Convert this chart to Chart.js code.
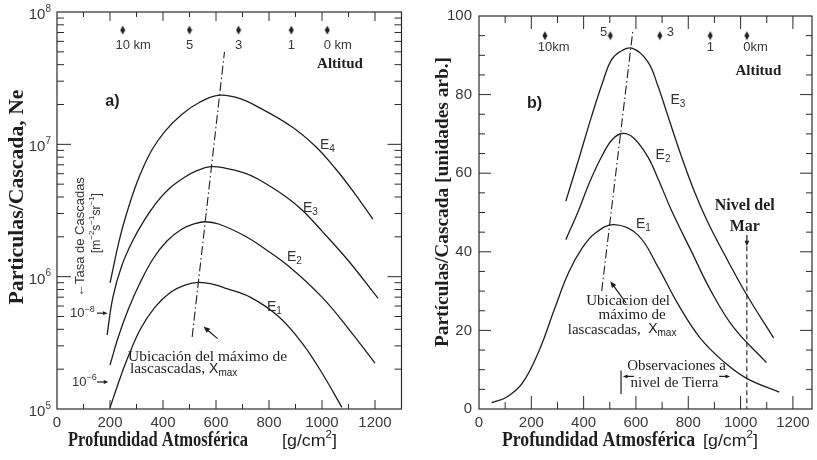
<!DOCTYPE html>
<html><head><meta charset="utf-8">
<script src="https://cdn.jsdelivr.net/npm/chart.js@4/dist/chart.umd.min.js"></script>
<style>
html,body{margin:0;padding:0;background:#fff;}
#wrap{position:relative;width:817px;height:460px;overflow:hidden;background:#fff;}
#c1{position:absolute;left:0;top:0;}
#c2{position:absolute;left:410px;top:0;}
</style></head><body>
<div id="wrap"><canvas id="c1" width="410" height="460"></canvas><canvas id="c2" width="407" height="460"></canvas></div>
<script>
// ---------- DATA (panel a: log scale) ----------
const leftDepthE1 = [200,230,268,317,370,430,483,535,590,634,732,834,925,1000,1075];
const leftNeE1    = [1.02e5,1.54e5,2.47e5,4.09e5,5.89e5,7.65e5,8.64e5,9.05e5,8.75e5,8.2e5,6.95e5,5.04e5,3.15e5,1.87e5,1.03e5];
const leftDepthE2 = [200,230,268,313,362,415,472,521,560,610,709,785,879,1000,1098,1200];
const leftNeE2    = [2.15e5,3.44e5,5.6e5,8.95e5,1.36e6,1.86e6,2.29e6,2.52e6,2.6e6,2.5e6,2.03e6,1.62e6,1.18e6,7.01e5,4.09e5,2.22e5];
const leftDepthE3 = [189,211,245,287,332,377,426,483,530,580,634,709,758,860,925,1000,1098,1211];
const leftNeE3    = [3.62e5,7.01e5,1.22e6,1.89e6,2.72e6,3.66e6,4.67e6,5.66e6,6.35e6,6.78e6,6.62e6,6.07e6,5.47e6,4.07e6,3.19e6,2.21e6,1.33e6,6.89e5];
const leftDepthE4 = [200,238,275,313,358,408,472,540,612,680,758,886,974,1049,1125,1192];
const leftNeE4    = [8.96e5,1.99e6,3.6e6,5.86e6,9.06e6,1.26e7,1.69e7,2.09e7,2.35e7,2.25e7,1.92e7,1.36e7,9.71e6,6.62e6,4.21e6,2.72e6];
const leftXmaxDepth = [510,632];
const leftXmaxNe    = [3.5e5,5.0e7];
const leftAltitudeDepth = [248,500,685,884,1020];
const leftAltitudeLabels = ['10 km','5','3','1','0 km'];
const leftXTicks = [0,200,400,600,800,1000,1200];
const leftYTickExponents = [5,6,7,8];

// ---------- DATA (panel b: linear scale) ----------
const rightDepthE1 = [48,105,165,230,290,343,396,445,517,607,683,758,845,936,1023,1148];
const rightValE1   = [1.6,3.0,6.5,14.9,25.7,34.8,41.1,44.8,46.9,44.3,36.3,27.0,18.1,12.0,7.8,4.3];
const rightDepthE2 = [332,381,426,471,509,547,590,645,687,736,812,887,974,1099];
const rightValE2   = [43.1,50.6,58.2,64.5,68.5,70.1,69.0,64.2,58.2,50.5,40.1,30.0,20.7,11.8];
const rightDepthE3 = [332,381,430,475,505,539,585,645,683,721,770,823,872,937,1024,1126];
const rightValE3   = [52.9,63.5,74.4,83.6,88.7,90.9,91.8,88.4,82.4,74.8,65.0,55.4,47.9,39.5,29.0,18.1];
const rightXmaxDepth = [469,589];
const rightXmaxVal   = [30.0,96.7];
const rightAltitudeDepth = [252,502,691,884,1024];
const rightAltitudeLabels = ['10km','5','3','1','0km'];
const seaLevelDepth = [1024];
const rightXTicks = [0,200,400,600,800,1000,1200];
const rightYTicks = [0,20,40,60,80,100];

// ---------- helpers ----------
const SANS = '"Liberation Sans", Arial, Helvetica, sans-serif';
const SERIF = '"Liberation Serif", "Times New Roman", serif';
const INK = '#1e1e1e';
const zip = (xs, ys) => xs.map((x, i) => ({x, y: ys[i]}));

function fontOf(p){ return (p.bold ? 'bold ' : '') + p.size + 'px ' + (p.serif ? SERIF : SANS); }
function rich(ctx, parts, x, y, o) {
  o = o || {};
  ctx.save();
  ctx.translate(x, y);
  if (o.rot) ctx.rotate(o.rot);
  ctx.fillStyle = o.color || INK;
  ctx.textBaseline = 'middle';
  ctx.textAlign = 'left';
  let w = 0;
  parts.forEach(p => { ctx.font = fontOf(p); w += ctx.measureText(p.t).width; });
  if (o.width) ctx.scale(o.width / w, 1);
  let cx = o.align === 'center' ? -w / 2 : (o.align === 'right' ? -w : 0);
  parts.forEach(p => { ctx.font = fontOf(p); ctx.fillText(p.t, cx, p.dy || 0); cx += ctx.measureText(p.t).width; });
  ctx.restore();
  return w;
}
function seg(ctx, x1, y1, x2, y2) { ctx.beginPath(); ctx.moveTo(x1, y1); ctx.lineTo(x2, y2); ctx.stroke(); }
function arrow(ctx, x1, y1, x2, y2, head) {
  head = head || 6;
  const ang = Math.atan2(y2 - y1, x2 - x1);
  ctx.save();
  ctx.strokeStyle = INK; ctx.fillStyle = INK; ctx.lineWidth = 1.2;
  seg(ctx, x1, y1, x2 - Math.cos(ang) * head * 0.8, y2 - Math.sin(ang) * head * 0.8);
  ctx.beginPath();
  ctx.moveTo(x2, y2);
  ctx.lineTo(x2 - head * Math.cos(ang - 0.4), y2 - head * Math.sin(ang - 0.4));
  ctx.lineTo(x2 - head * Math.cos(ang + 0.4), y2 - head * Math.sin(ang + 0.4));
  ctx.closePath(); ctx.fill();
  ctx.restore();
}
function diamondImg() {
  const c = document.createElement('canvas'); c.width = 6; c.height = 10;
  const g = c.getContext('2d'); g.fillStyle = '#222';
  g.beginPath(); g.moveTo(3, 0.5); g.lineTo(5.5, 5); g.lineTo(3, 9.5); g.lineTo(0.5, 5); g.closePath(); g.fill();
  return c;
}
const DIAMOND = diamondImg();

function frameAndTicks(chart, xMajorStep, xMinorStep, xMajLen, xMinLen, yList, yMajLen, yMinLen) {
  const {ctx, chartArea: a, scales: {x, y}} = chart;
  ctx.save();
  ctx.strokeStyle = '#2a2a2a'; ctx.lineWidth = 1.2;
  ctx.strokeRect(a.left, a.top, a.right - a.left, a.bottom - a.top);
  ctx.lineWidth = 1;
  for (let g = xMinorStep; g <= x.max; g += xMinorStep) {
    const px = x.getPixelForValue(g);
    if (px >= a.right - 1) continue;
    const L = (g % xMajorStep === 0) ? xMajLen : xMinLen;
    seg(ctx, px, a.bottom, px, a.bottom - L);
    seg(ctx, px, a.top, px, a.top + L);
  }
  yList.forEach(t => {
    const py = y.getPixelForValue(t.v);
    if (py <= a.top + 0.5 || py >= a.bottom - 0.5) return;
    const L = t.major ? yMajLen : yMinLen;
    seg(ctx, a.left, py, a.left + L, py);
    seg(ctx, a.right, py, a.right - L, py);
  });
  ctx.restore();
}

// ---------- panel a ----------
const leftPlugin = {
  id: 'leftDecor',
  afterDraw(chart) {
    const {ctx, chartArea: a, scales: {x, y}} = chart;
    const P = (g, v) => ({x: x.getPixelForValue(g), y: y.getPixelForValue(v)});
    const yl = [];
    for (let e = 5; e <= 7; e++) for (let m = 1; m <= 9; m++) yl.push({v: m * Math.pow(10, e), major: m === 1});
    frameAndTicks(chart, 200, 100, 9, 5, yl, 14, 7);

    leftYTickExponents.forEach(e => {
      const py = y.getPixelForValue(Math.pow(10, e));
      rich(ctx, [{t: '10', size: 15}, {t: String(e), size: 10, dy: -6}], a.left - 6, py + 3, {align: 'right', color: '#3a3a3a'});
    });

    ctx.save(); ctx.font = '13px ' + SANS;
    leftAltitudeDepth.forEach((d, i) => {
      const px = x.getPixelForValue(d);
      const lab = leftAltitudeLabels[i];
      const num = lab.split(' ')[0];
      const nw = ctx.measureText(num).width;
      rich(ctx, [{t: lab, size: 13}], px - nw / 2, 45, {color: '#3a3a3a'});
    });
    ctx.restore();
    let p = P(1068, 4.05e7);
    rich(ctx, [{t: 'Altitud', size: 15, bold: true, serif: true}], p.x, p.y, {align: 'center'});
    p = P(209, 2.12e7);
    rich(ctx, [{t: 'a)', size: 16, bold: true}], p.x, p.y, {align: 'center'});

    [['4', 992, 9.9e6], ['3', 928, 3.3e6], ['2', 868, 1.41e6], ['1', 792, 5.9e5]].forEach(l => {
      const q = P(l[1], l[2]);
      rich(ctx, [{t: 'E', size: 14}, {t: l[0], size: 10, dy: 4}], q.x, q.y, {color: '#333'});
    });

    p = P(268, 2.47e5);
    rich(ctx, [{t: 'Ubicación del máximo de', size: 15.5, serif: true}], p.x, p.y, {width: 159});
    p = P(275, 2.0e5);
    rich(ctx, [{t: 'lascascadas, ', size: 15.5, serif: true}, {t: 'X', size: 14}, {t: 'max', size: 10, dy: 4}], p.x, p.y);
    const a1 = P(606, 3.4e5), a2 = P(553, 4.2e5);
    arrow(ctx, a1.x, a1.y, a2.x, a2.y, 7);

    p = P(49, 5.3e5);
    rich(ctx, [{t: '10', size: 13}, {t: '\u22128', size: 9, dy: -4}], p.x, p.y, {color: '#333'});
    let b1 = P(151, 5.3e5), b2 = P(191, 5.3e5);
    arrow(ctx, b1.x, b1.y, b2.x, b2.y, 5);
    p = P(57, 1.6e5);
    rich(ctx, [{t: '10', size: 13}, {t: '\u22126', size: 9, dy: -4}], p.x, p.y, {color: '#333'});
    b1 = P(151, 1.6e5); b2 = P(194, 1.6e5);
    arrow(ctx, b1.x, b1.y, b2.x, b2.y, 5);

    p = P(87, 1.99e6);
    rich(ctx, [{t: '\u2190Tasa de Cascadas', size: 13}], p.x, p.y, {rot: -Math.PI / 2, align: 'center', color: '#333'});
    p = P(148, 2.54e6);
    rich(ctx, [{t: '[m', size: 12}, {t: '\u22122', size: 8, dy: -4}, {t: 's', size: 12}, {t: '\u22121', size: 8, dy: -4},
               {t: 'sr', size: 12}, {t: '\u22121', size: 8, dy: -4}, {t: ']', size: 12}], p.x, p.y,
         {rot: -Math.PI / 2, align: 'center', color: '#333'});

    rich(ctx, [{t: 'Particulas/Cascada, Ne', size: 20, bold: true, serif: true}], 18, 197, {rot: -Math.PI / 2, align: 'center', width: 215});
    rich(ctx, [{t: 'Profundidad Atmosférica', size: 20, bold: true, serif: true}], 68, 441, {width: 180});
    rich(ctx, [{t: '[g/cm', size: 17}, {t: '2', size: 11, dy: -6}, {t: ']', size: 17}], 282, 441, {width: 55});
  }
};

const lineDs = (data) => ({data, borderColor: INK, borderWidth: 1.3, pointRadius: 0, fill: false, tension: 0.4});

new Chart(document.getElementById('c1'), {
  type: 'line',
  data: {
    datasets: [
      lineDs(zip(leftDepthE1, leftNeE1)),
      lineDs(zip(leftDepthE2, leftNeE2)),
      lineDs(zip(leftDepthE3, leftNeE3)),
      lineDs(zip(leftDepthE4, leftNeE4)),
      {data: zip(leftXmaxDepth, leftXmaxNe), borderColor: INK, borderWidth: 1.1, pointRadius: 0, borderDash: [9, 3, 1.5, 3], tension: 0},
      {type: 'scatter', data: leftAltitudeDepth.map(d => ({x: d, y: 7.3e7})), pointStyle: DIAMOND, pointRadius: 4, showLine: false}
    ]
  },
  options: {
    responsive: false, animation: false, devicePixelRatio: 1,
    layout: {padding: {top: 12, right: 8.5, left: 0, bottom: 0}},
    plugins: {legend: {display: false}, tooltip: {enabled: false}},
    scales: {
      x: {type: 'linear', min: 0, max: 1300, afterFit: s => { s.height = 51; },
          grid: {display: false, drawTicks: false}, border: {display: false},
          ticks: {stepSize: 200, includeBounds: false, autoSkip: false, maxRotation: 0, padding: 5,
                  color: '#3a3a3a', font: {family: SANS, size: 15},
                  callback: v => leftXTicks.includes(v) ? String(v) : ''}},
      y: {type: 'logarithmic', min: 1e5, max: 1e8, afterFit: s => { s.width = 57; },
          grid: {display: false, drawTicks: false}, border: {display: false}, ticks: {display: false}}
    }
  },
  plugins: [leftPlugin]
});

// ---------- panel b ----------
const rightPlugin = {
  id: 'rightDecor',
  afterDraw(chart) {
    const {ctx, chartArea: a, scales: {x, y}} = chart;
    const P = (g, v) => ({x: x.getPixelForValue(g), y: y.getPixelForValue(v)});
    const yl = [];
    for (let v = 5; v < 100; v += 5) yl.push({v, major: v % 20 === 0});
    frameAndTicks(chart, 200, 100, 13, 7, yl, 12, 6);

    ctx.save(); ctx.font = '13px ' + SANS;
    rightAltitudeDepth.forEach((d, i) => {
      const px = x.getPixelForValue(d);
      const lab = rightAltitudeLabels[i];
      if (i === 1) { rich(ctx, [{t: lab, size: 13}], px - 3, 32, {align: 'right', color: '#3a3a3a'}); return; }
      if (i === 2) { rich(ctx, [{t: lab, size: 13}], px + 7, 32, {color: '#3a3a3a'}); return; }
      const num = lab.replace('km', '');
      const nw = ctx.measureText(num).width;
      rich(ctx, [{t: lab, size: 13}], px - nw / 2, 47, {color: '#3a3a3a'});
    });
    ctx.restore();
    let p = P(1068, 86.1);
    rich(ctx, [{t: 'Altitud', size: 15, bold: true, serif: true}], p.x, p.y, {align: 'center'});
    p = P(212, 77.8);
    rich(ctx, [{t: 'b)', size: 16, bold: true}], p.x, p.y, {align: 'center'});

    [['3', 732, 78.6], ['2', 675, 64.5], ['1', 600, 47.1]].forEach(l => {
      const q = P(l[1], l[2]);
      rich(ctx, [{t: 'E', size: 14}, {t: l[0], size: 10, dy: 4}], q.x, q.y, {color: '#333'});
    });

    p = P(1016, 51.6);
    rich(ctx, [{t: 'Nivel del', size: 16, bold: true, serif: true}], p.x, p.y, {align: 'center'});
    p = P(1016, 46.3);
    rich(ctx, [{t: 'Mar', size: 16, bold: true, serif: true}], p.x, p.y, {align: 'center'});
    let s1 = P(seaLevelDepth[0], 44.3), s2 = P(seaLevelDepth[0], 41.4);
    arrow(ctx, s1.x, s1.y, s2.x, s2.y, 6);

    p = P(570, 27.5);
    rich(ctx, [{t: 'Ubicacion del', size: 15, serif: true}], p.x, p.y, {align: 'center'});
    p = P(585, 23.9);
    rich(ctx, [{t: 'máximo de', size: 15, serif: true}], p.x, p.y, {align: 'center'});
    p = P(547, 20.2);
    rich(ctx, [{t: 'lascascadas,  ', size: 15, serif: true}, {t: 'X', size: 14}, {t: 'max', size: 10, dy: 4}], p.x, p.y, {align: 'center'});
    const a1 = P(562, 27.0), a2 = P(502, 32.5);
    arrow(ctx, a1.x, a1.y, a2.x, a2.y, 7);

    p = P(755, 10.8);
    rich(ctx, [{t: 'Observaciones a', size: 15, serif: true}], p.x, p.y, {align: 'center'});
    p = P(747, 6.5);
    rich(ctx, [{t: 'nivel de Tierra', size: 15, serif: true}], p.x, p.y, {align: 'center'});
    const t1 = P(543, 9.8), t2 = P(543, 3.8);
    ctx.save(); ctx.strokeStyle = INK; ctx.lineWidth = 1.2; seg(ctx, t1.x, t1.y, t2.x, t2.y); ctx.restore();
    let q1 = P(592, 8.3), q2 = P(550, 8.3);
    arrow(ctx, q1.x, q1.y, q2.x, q2.y, 5);
    q1 = P(918, 8.3); q2 = P(960, 8.3);
    arrow(ctx, q1.x, q1.y, q2.x, q2.y, 5);

    rich(ctx, [{t: 'Partículas/Cascada [unidades arb.]', size: 19, bold: true, serif: true}], 33, 202, {rot: -Math.PI / 2, align: 'center', width: 290});
    rich(ctx, [{t: 'Profundidad Atmosférica', size: 20, bold: true, serif: true}], 92, 441, {width: 193});
    rich(ctx, [{t: '[g/cm', size: 17}, {t: '2', size: 11, dy: -6}, {t: ']', size: 17}], 293, 441, {width: 55});
  }
};

new Chart(document.getElementById('c2'), {
  type: 'line',
  data: {
    datasets: [
      lineDs(zip(rightDepthE1, rightValE1)),
      lineDs(zip(rightDepthE2, rightValE2)),
      lineDs(zip(rightDepthE3, rightValE3)),
      {data: zip(rightXmaxDepth, rightXmaxVal), borderColor: INK, borderWidth: 1.1, pointRadius: 0, borderDash: [9, 3, 1.5, 3], tension: 0},
      {data: [{x: seaLevelDepth[0], y: 41.4}, {x: seaLevelDepth[0], y: 0}], borderColor: INK, borderWidth: 1.1, pointRadius: 0, borderDash: [5, 3], tension: 0},
      {type: 'scatter', data: rightAltitudeDepth.map(d => ({x: d, y: 95})), pointStyle: DIAMOND, pointRadius: 4, showLine: false}
    ]
  },
  options: {
    responsive: false, animation: false, devicePixelRatio: 1,
    layout: {padding: {top: 12, right: 1, left: 0, bottom: 0}},
    plugins: {legend: {display: false}, tooltip: {enabled: false}},
    scales: {
      x: {type: 'linear', min: 0, max: 1273, afterFit: s => { s.height = 51; },
          grid: {display: false, drawTicks: false}, border: {display: false},
          ticks: {stepSize: 200, includeBounds: false, autoSkip: false, maxRotation: 0, padding: 5,
                  color: '#3a3a3a', font: {family: SANS, size: 15},
                  callback: v => rightXTicks.includes(v) ? String(v) : ''}},
      y: {type: 'linear', min: 0, max: 100, afterFit: s => { s.width = 69; },
          grid: {display: false, drawTicks: false}, border: {display: false},
          ticks: {stepSize: 20, padding: 7, color: '#3a3a3a', font: {family: SANS, size: 15},
                  callback: v => rightYTicks.includes(v) ? String(v) : ''}}
    }
  },
  plugins: [rightPlugin]
});
</script>
</body></html>
